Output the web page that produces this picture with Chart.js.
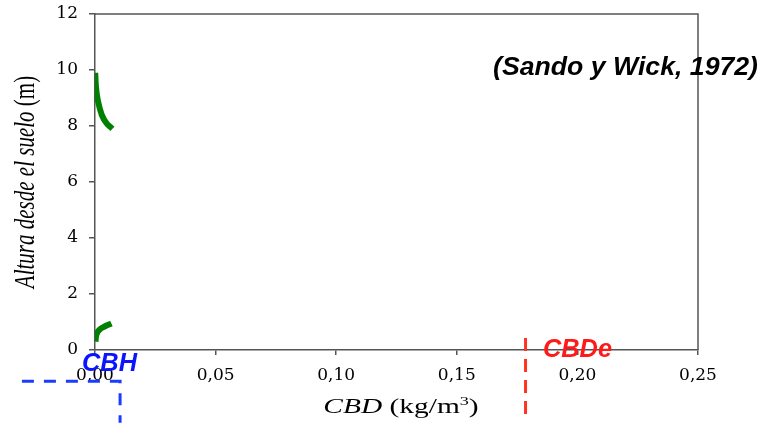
<!DOCTYPE html>
<html>
<head>
<meta charset="utf-8">
<script src="https://cdn.jsdelivr.net/npm/chart.js@4/dist/chart.umd.min.js"></script>
<style>
  html, body { margin: 0; padding: 0; background: #fff; }
  canvas { display: block; }
</style>
</head>
<body>
<canvas id="chart" width="769" height="428"></canvas>
<script>
// crown bulk density profile (CBD kg/m3 vs height m)
const upperCBD    = [0.0001, 0.0004, 0.0012, 0.0028, 0.0048, 0.0072];
const upperHeight = [9.9,    9.4,    8.9,    8.4,    8.1,    7.9];
const lowerCBD    = [0.0002, 0.0006, 0.0018, 0.0040, 0.0068];
const lowerHeight = [0.3,    0.55,   0.72,   0.84,   0.95];

// CBH and CBDe marker lines
const cbhX  = [-0.0303, 0.0104, 0.0104];
const cbhY  = [-1.12,   -1.12,  -2.6];
const cbdeX = [0.1785, 0.1785];
const cbdeY = [0.43,   -2.5];

const xTickLabels = ['0,00', '0,05', '0,10', '0,15', '0,20', '0,25'];
const yTickLabels = ['0', '2', '4', '6', '8', '10', '12'];

const axisColor = '#555555';
const SX = 1.4; // the original figure is stretched sideways

function pts(xs, ys) {
  return xs.map((x, i) => ({ x: x, y: ys[i] }));
}

function drawParts(ctx, parts, x, y) {
  // parts: [text, font, dy]
  let cx = x;
  parts.forEach(p => {
    ctx.font = p[1];
    ctx.fillText(p[0], cx, y + (p[2] || 0));
    cx += ctx.measureText(p[0]).width;
  });
}
function partsWidth(ctx, parts) {
  let w = 0;
  parts.forEach(p => { ctx.font = p[1]; w += ctx.measureText(p[0]).width; });
  return w;
}
function fitText(ctx, text, left, base, font, color, width) {
  ctx.save();
  ctx.font = font;
  const sx = width / ctx.measureText(text).width;
  ctx.translate(left, base);
  ctx.scale(sx, 1);
  ctx.fillStyle = color;
  ctx.fillText(text, 0, 0);
  ctx.restore();
}

const extras = {
  id: 'extras',
  beforeDatasetsDraw(chart) {
    const { ctx, chartArea: a } = chart;
    ctx.save();
    ctx.strokeStyle = axisColor;
    ctx.lineWidth = 1.5;
    ctx.beginPath();
    ctx.moveTo(a.left, a.top);
    ctx.lineTo(a.right, a.top);
    ctx.lineTo(a.right, a.bottom);
    ctx.stroke();
    ctx.restore();
  },
  afterDraw(chart) {
    const ctx = chart.ctx;
    ctx.save();
    ctx.fillStyle = '#000';
    ctx.textBaseline = 'alphabetic';

    // x title
    const xParts = [
      ['CBD', 'italic 21px "Liberation Serif"'],
      [' (kg/m', '21px "Liberation Serif"'],
      ['3', '13px "Liberation Serif"', -8],
      [')', '21px "Liberation Serif"']
    ];
    const xw = partsWidth(ctx, xParts);
    ctx.save();
    ctx.translate(401, 413);
    ctx.scale(SX, 1);
    drawParts(ctx, xParts, -xw / 2, 0);
    ctx.restore();

    // y title
    const yParts = [
      ['Altura desde el suelo', 'italic 21px "Liberation Serif"'],
      [' (m)', '21px "Liberation Serif"']
    ];
    const yw = partsWidth(ctx, yParts);
    ctx.save();
    ctx.translate(26, 182);
    ctx.rotate(-Math.PI / 2);
    ctx.scale(1, SX);
    ctx.textBaseline = 'middle';
    drawParts(ctx, yParts, -yw / 2, 0);
    ctx.restore();

    // annotations
    fitText(ctx, '(Sando y Wick, 1972)', 493, 75, 'bold italic 25px "Liberation Sans"', '#000', 265);
    fitText(ctx, 'CBH', 82, 371, 'bold italic 26px "Liberation Sans"', '#0a14ff', 55);
    fitText(ctx, 'CBDe', 543, 357, 'bold italic 26px "Liberation Sans"', '#ff1a1a', 69);
    ctx.restore();
  }
};

const ctx = document.getElementById('chart').getContext('2d');
new Chart(ctx, {
  type: 'scatter',
  data: {
    datasets: [
      {
        data: pts(upperCBD, upperHeight),
        showLine: true, borderColor: '#008000', borderWidth: 6,
        pointRadius: 0, tension: 0.4, borderCapStyle: 'butt'
      },
      {
        data: pts(lowerCBD, lowerHeight),
        showLine: true, borderColor: '#008000', borderWidth: 6,
        pointRadius: 0, tension: 0.4, borderCapStyle: 'butt'
      },
      {
        data: pts(cbhX, cbhY),
        showLine: true, borderColor: '#1a3cff', borderWidth: 3,
        borderDash: [12, 10], pointRadius: 0, clip: false
      },
      {
        data: pts(cbdeX, cbdeY),
        showLine: true, borderColor: '#ff3322', borderWidth: 3,
        borderDash: [13, 8], pointRadius: 0, clip: false
      }
    ]
  },
  options: {
    responsive: false,
    animation: false,
    devicePixelRatio: 1,
    layout: { padding: { top: 14, right: 71, left: 0, bottom: 0 } },
    plugins: { legend: { display: false }, tooltip: { enabled: false } },
    scales: {
      x: {
        type: 'linear', min: 0, max: 0.25,
        afterFit: s => { s.height = 78; },
        afterBuildTicks: s => { s.ticks = xTickLabels.map((t, i) => ({ value: i * 0.05 })); },
        grid: { drawOnChartArea: false, drawTicks: true, tickLength: 5, color: axisColor, lineWidth: 1.5 },
        border: { color: axisColor, width: 1.5 },
        ticks: {
          color: '#000', padding: 10, maxRotation: 0,
          font: { family: '"DejaVu Serif"', size: 17 },
          callback: (v, i) => xTickLabels[i]
        }
      },
      y: {
        type: 'linear', min: 0, max: 12,
        afterFit: s => { s.width = 95; s.paddingTop = 0; s.paddingBottom = 0; },
        afterBuildTicks: s => { s.ticks = yTickLabels.map((t, i) => ({ value: i * 2 })); },
        grid: { drawOnChartArea: false, drawTicks: true, tickLength: 6, color: axisColor, lineWidth: 1.5 },
        border: { color: axisColor, width: 1.5 },
        ticks: {
          color: '#000', padding: 11,
          font: { family: '"DejaVu Serif"', size: 17 },
          callback: (v, i) => yTickLabels[i]
        }
      }
    }
  },
  plugins: [extras]
});
</script>
</body>
</html>
